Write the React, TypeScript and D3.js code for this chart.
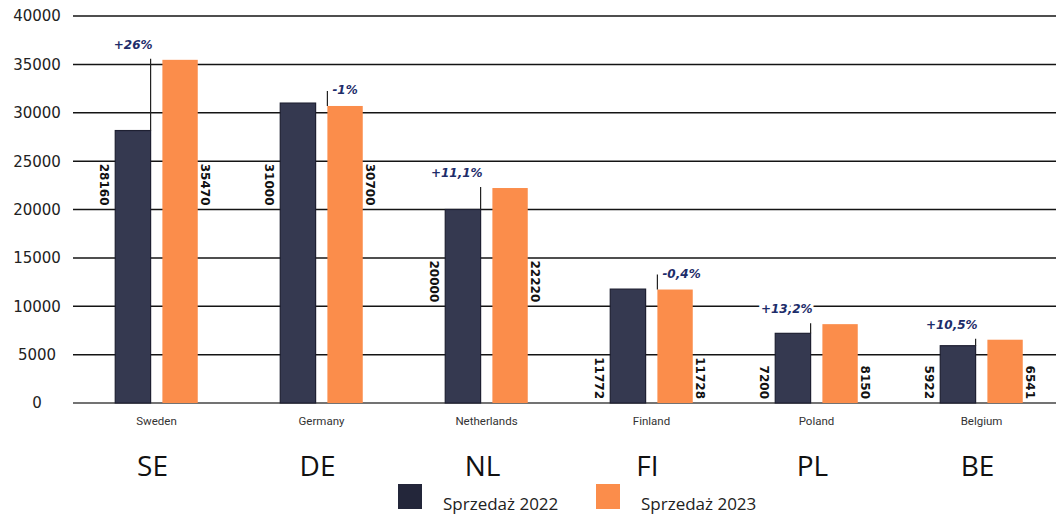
import * as d3 from 'd3';

const categories = ['Sweden', 'Germany', 'Netherlands', 'Finland', 'Poland', 'Belgium'];
const codes = ['SE', 'DE', 'NL', 'FI', 'PL', 'BE'];
const sales2022 = [28160, 31000, 20000, 11772, 7200, 5922];
const sales2023 = [35470, 30700, 22220, 11728, 8150, 6541];
const changeLabels = ['+26%', '-1%', '+11,1%', '-0,4%', '+13,2%', '+10,5%'];
const yTicks = [0, 5000, 10000, 15000, 20000, 25000, 30000, 35000, 40000];
const seriesKeys = ['2022', '2023'];
const legendLabels = ['Sprzedaż 2022', 'Sprzedaż 2023'];

const DARK = '#353950';
const DARK_EDGE = '#1e2032';
const ORANGE = '#fb8d4b';
const NAVY = '#1d2d6a';

const width = 1056;
const height = 516;

// label sits on the 10000-step gridline somewhat below the bar top
const labelBase = (v: number) => Math.floor(Math.max(0, v - 8000) / 10000) * 10000;

export default function App() {
  const x = d3.scaleBand<string>()
    .domain(categories)
    .range([74, 1064])
    .paddingInner(0.5)
    .paddingOuter(0.25);

  const x1 = d3.scaleBand<string>()
    .domain(seriesKeys)
    .range([0, x.bandwidth()])
    .paddingInner(0.25);

  const y = d3.scaleLinear().domain([0, 40000]).range([403, 16]);

  const bw = x1.bandwidth();

  return (
    <svg width={width} height={height} style={{ position: 'absolute', left: 0, top: 0, background: '#fff' }}>
      {/* gridlines + y labels */}
      {yTicks.map((t) => (
        <g key={t}>
          <line x1={73} x2={width} y1={y(t)} y2={y(t)} stroke={t === 0 ? '#444' : '#141414'} strokeWidth={1.5} />
          <text x={37} y={y(t)} dy="0.36em" textAnchor="middle"
            style={{ font: '15px "DejaVu Sans", sans-serif', fill: '#222' }}>{t}</text>
        </g>
      ))}

      {categories.map((c, i) => {
        const gx = x(c)!;
        const darkX = gx + x1('2022')!;
        const orangeX = gx + x1('2023')!;
        const v22 = sales2022[i];
        const v23 = sales2023[i];
        const up = v23 >= v22;
        const center = gx + x.bandwidth() / 2;
        return (
          <g key={c}>
            <rect x={darkX} y={y(v22)} width={bw} height={y(0) - y(v22)} fill={DARK} stroke={DARK_EDGE} strokeWidth={1.2} />
            <rect x={orangeX} y={y(v23)} width={bw} height={y(0) - y(v23)} fill={ORANGE} />

            {/* value labels, rotated */}
            <text transform={`translate(${darkX - 15},${y(labelBase(v22)) - 4}) rotate(90)`} textAnchor="end"
              style={{ font: 'bold 12px "DejaVu Sans", sans-serif', fill: '#111' }}>{v22}</text>
            <text transform={`translate(${orangeX + bw + 3},${y(labelBase(v23)) - 4}) rotate(90)`} textAnchor="end"
              style={{ font: 'bold 12px "DejaVu Sans", sans-serif', fill: '#111' }}>{v23}</text>

            {/* change annotation */}
            {up ? (
              <g>
                <line x1={darkX + bw} x2={darkX + bw} y1={y(v22)} y2={y(v23) - 1} stroke="#222" strokeWidth={1.2} />
                <text x={darkX + bw + 2} y={y(v23) - 11} textAnchor="end"
                  style={{ font: 'italic bold 12px "DejaVu Sans", sans-serif', fill: NAVY, stroke: '#fff', strokeWidth: 6, paintOrder: 'stroke' }}>
                  {changeLabels[i]}
                </text>
              </g>
            ) : (
              <g>
                <line x1={orangeX} x2={orangeX} y1={y(v23)} y2={y(v23) - 15} stroke="#222" strokeWidth={1.2} />
                <text x={orangeX + 5} y={y(v23) - 12}
                  style={{ font: 'italic bold 12px "DejaVu Sans", sans-serif', fill: NAVY, stroke: '#fff', strokeWidth: 6, paintOrder: 'stroke' }}>
                  {changeLabels[i]}
                </text>
              </g>
            )}

            <text x={center} y={425} textAnchor="middle"
              style={{ font: '11.5px Roboto, sans-serif', fill: '#333' }}>{c}</text>
            <text x={center - 4} y={476} textAnchor="middle"
              style={{ font: '28px "Open Sans", sans-serif', fill: '#111' }}>{codes[i]}</text>
          </g>
        );
      })}

      {/* legend */}
      {legendLabels.map((l, i) => {
        const lx = i === 0 ? 398 : 596;
        return (
          <g key={l}>
            <rect x={lx} y={484} width={24} height={25} fill={i === 0 ? '#23263a' : ORANGE} />
            <text x={lx + 45} y={510} style={{ font: '17px "Open Sans", sans-serif', fill: '#222' }}>{l}</text>
          </g>
        );
      })}
    </svg>
  );
}
